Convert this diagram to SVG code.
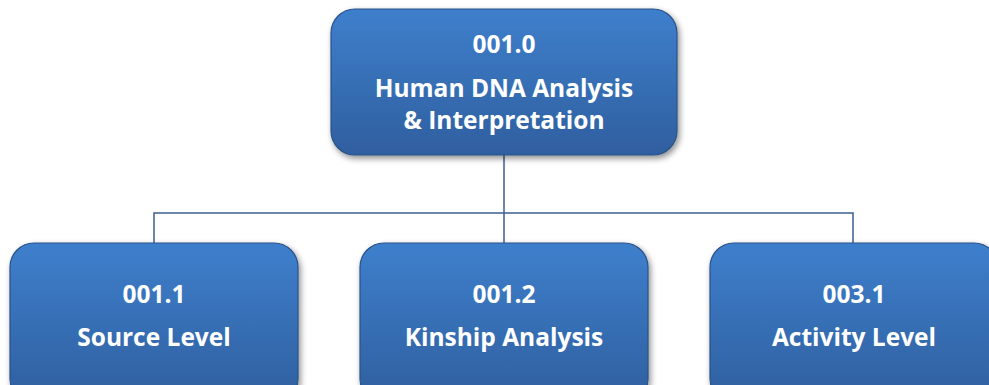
<svg xmlns="http://www.w3.org/2000/svg" width="989" height="385" viewBox="0 0 989 385">
<defs>
<linearGradient id="g" x1="0" y1="0" x2="0" y2="1">
<stop offset="0" stop-color="#3E7FCC"/>
<stop offset="1" stop-color="#2F5F9F"/>
</linearGradient>
<filter id="sh" x="-10%" y="-10%" width="130%" height="130%">
<feGaussianBlur in="SourceAlpha" stdDeviation="3"/>
<feOffset dx="2" dy="3" result="b"/>
<feComponentTransfer><feFuncA type="linear" slope="0.45"/></feComponentTransfer>
<feMerge><feMergeNode/><feMergeNode in="SourceGraphic"/></feMerge>
</filter>
</defs>
<style>
.box{fill:url(#g);stroke:#2A5388;stroke-width:1.2;filter:url(#sh)}
.t{font-family:"Open Sans","Liberation Sans",sans-serif;font-weight:bold;font-size:24.5px;fill:#fff;text-anchor:middle}
.c{fill:none;stroke:#3A5F8E;stroke-width:1.5}
</style>
<g id="connectors">
<path class="c" d="M504 155V213M154 243V213H853V243M504 213V243"/>
</g>
<g id="n0">
<rect class="box" x="331" y="9" width="346" height="146" rx="24"/>
<text class="t" x="504" y="53">001.0</text>
<text class="t" x="504" y="97">Human DNA Analysis</text>
<text class="t" x="504" y="129">&amp; Interpretation</text>
</g>
<g id="n1">
<rect class="box" x="10" y="243" width="288" height="160" rx="24"/>
<text class="t" x="154" y="303">001.1</text>
<text class="t" x="154" y="346">Source Level</text>
</g>
<g id="n2">
<rect class="box" x="360" y="243" width="288" height="160" rx="24"/>
<text class="t" x="504" y="303">001.2</text>
<text class="t" x="504" y="346">Kinship Analysis</text>
</g>
<g id="n3">
<rect class="box" x="710" y="243" width="288" height="160" rx="24"/>
<text class="t" x="854" y="303">003.1</text>
<text class="t" x="854" y="346">Activity Level</text>
</g>
</svg>
